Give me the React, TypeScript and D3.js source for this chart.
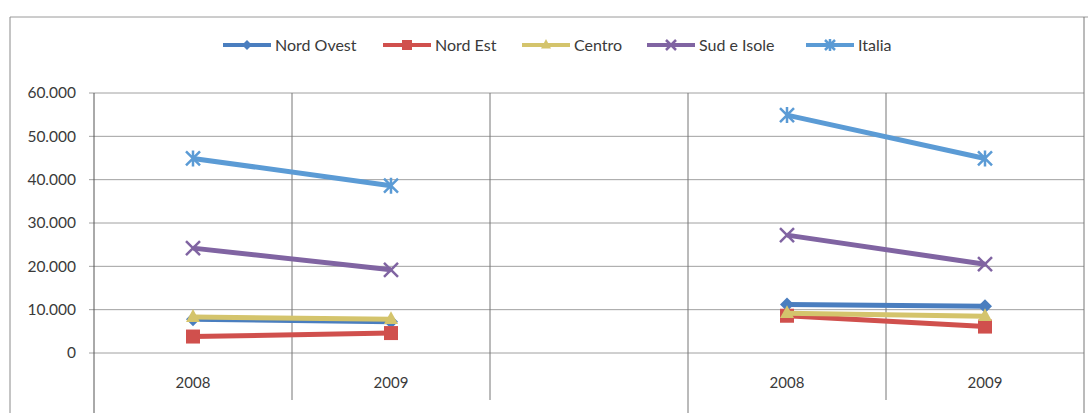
import React from "react";
import * as d3 from "d3";

const categories: string[] = ["2008", "2009", "", "2008", "2009"];
const seriesNames: string[] = ["Nord Ovest", "Nord Est", "Centro", "Sud e Isole", "Italia"];
const nordOvest: (number | null)[] = [7800, 7200, null, 11200, 10800];
const nordEst: (number | null)[] = [3800, 4600, null, 8600, 6100];
const centro: (number | null)[] = [8300, 7800, null, 9200, 8500];
const sudIsole: (number | null)[] = [24200, 19200, null, 27200, 20500];
const italia: (number | null)[] = [44900, 38600, null, 54900, 44900];
const yTicks: number[] = [0, 10000, 20000, 30000, 40000, 50000, 60000];

const colors = ["#4A7EBF", "#D0504D", "#D4C46C", "#8064A2", "#5B9BD5"];
const markers = ["diamond", "square", "triangle", "x", "star"];
const allSeries = [nordOvest, nordEst, centro, sudIsole, italia];
const legendX = [223, 383, 522, 647, 806];

const W = 1088, H = 413;
const left = 94, right = 1084, top = 93, bottom = 353;
const font = "Lato, 'Open Sans', sans-serif";

function Marker({ type, x, y, color, s = 7 }: { type: string; x: number; y: number; color: string; s?: number }) {
  if (type === "diamond") {
    return <path d={`M${x},${y - s}L${x + s},${y}L${x},${y + s}L${x - s},${y}Z`} fill={color} />;
  }
  if (type === "square") {
    return <rect x={x - s} y={y - s} width={2 * s} height={2 * s} fill={color} />;
  }
  if (type === "triangle") {
    return <path d={`M${x},${y - s - 1}L${x + s},${y + s * 0.7}L${x - s},${y + s * 0.7}Z`} fill={color} />;
  }
  if (type === "x") {
    return <path d={`M${x - s},${y - s}L${x + s},${y + s}M${x - s},${y + s}L${x + s},${y - s}`} stroke={color} strokeWidth={2.5} />;
  }
  return (
    <path
      d={`M${x - s},${y - s}L${x + s},${y + s}M${x - s},${y + s}L${x + s},${y - s}M${x},${y - s - 1}L${x},${y + s + 1}`}
      stroke={color}
      strokeWidth={2.5}
    />
  );
}

export default function App() {
  const x = d3.scaleBand<number>().domain(d3.range(categories.length)).range([left, right]);
  const y = d3.scaleLinear().domain([0, 60000]).range([bottom, top]);
  const cx = (i: number) => (x(i) as number) + x.bandwidth() / 2;
  const line = d3
    .line<number | null>()
    .defined((d) => d !== null)
    .x((_, i) => cx(i))
    .y((d) => y(d as number));
  const fmt = (v: number) => (v === 0 ? "0" : d3.format(",")(v).replace(/,/g, "."));
  const bounds = d3.range(categories.length + 1).map((i) => (i < categories.length ? (x(i) as number) : right));

  return (
    <svg width={W} height={H} style={{ position: "absolute", left: 0, top: 0, background: "#fff" }}>
      <rect x={0} y={0} width={W} height={H} fill="#fff" />
      <line x1={10} y1={17} x2={W} y2={17} stroke="#9a9a9a" strokeWidth={1} />
      <line x1={10} y1={17} x2={10} y2={H} stroke="#8a8a8a" strokeWidth={1} />
      {yTicks.map((t) => (
        <g key={t}>
          <line x1={left - 5} x2={right} y1={y(t)} y2={y(t)} stroke="#a0a0a0" strokeWidth={1} />
          <text x={76} y={y(t)} dy="0.35em" textAnchor="end" fontFamily={font} fontSize={15.5} fill="#3a3a3a">
            {fmt(t)}
          </text>
        </g>
      ))}
      {bounds.map((b, i) => (
        <line
          key={i}
          x1={b}
          x2={b}
          y1={i === bounds.length - 1 ? 17 : top}
          y2={i === 0 || i === 3 || i === bounds.length - 1 ? H : 400}
          stroke={i === 0 ? "#555" : "#777"}
          strokeWidth={1}
        />
      ))}
      {categories.map((c, i) => (
        <text key={i} x={cx(i)} y={383} dy="0.35em" textAnchor="middle" fontFamily={font} fontSize={15} fill="#3a3a3a">
          {c}
        </text>
      ))}
      {allSeries.map((s, si) => (
        <g key={si}>
          <path d={line(s) || ""} fill="none" stroke={colors[si]} strokeWidth={5} strokeLinejoin="round" />
          {s.map((v, i) =>
            v === null ? null : <Marker key={i} type={markers[si]} x={cx(i)} y={y(v)} color={colors[si]} />
          )}
        </g>
      ))}
      {seriesNames.map((n, si) => (
        <g key={n}>
          <line x1={legendX[si]} x2={legendX[si] + 48} y1={45} y2={45} stroke={colors[si]} strokeWidth={4} />
          <Marker type={markers[si]} x={legendX[si] + 24} y={45} color={colors[si]} s={5} />
          <text x={legendX[si] + 52} y={45} dy="0.35em" fontFamily={font} fontSize={16} fill="#3a3a3a">
            {n}
          </text>
        </g>
      ))}
    </svg>
  );
}
